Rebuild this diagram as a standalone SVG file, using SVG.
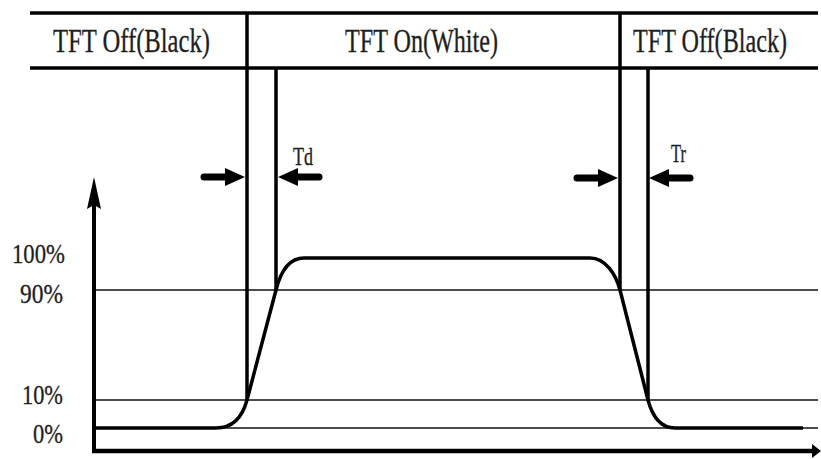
<svg xmlns="http://www.w3.org/2000/svg" width="821" height="459" viewBox="0 0 821 459">
<style>
  text { font-family: "Liberation Serif", "Times New Roman", serif; fill: #1e1e1e; stroke: #1e1e1e; stroke-width: 0.3; }
  .hdr { font-size: 33px; }
  .lbl { font-size: 27px; }
  .tag { font-size: 25px; }
  .thin { stroke: #111; stroke-width: 1.6; fill: none; }
  .bold { stroke: #000; stroke-width: 3.5; fill: none; }
  .curve { stroke: #000; stroke-width: 3.5; fill: none; stroke-linejoin: round; }
</style>
<defs>
  <g id="arrowRight">
    <line x1="-41" y1="0" x2="-16" y2="0" stroke="#000" stroke-width="7" stroke-linecap="round"/>
    <polygon points="0,0 -20,-9 -20,9" fill="#000"/>
  </g>
</defs>
<rect width="821" height="459" fill="#fff"/>

<g id="header">
  <line class="bold" x1="30" y1="13" x2="818" y2="13"/>
  <line class="bold" x1="30" y1="68" x2="818" y2="68" stroke-width="2.5"/>
  <text class="hdr" transform="translate(53,52) scale(0.73,1)" textLength="215" lengthAdjust="spacingAndGlyphs">TFT Off(Black)</text>
  <text class="hdr" transform="translate(345,52) scale(0.73,1)" textLength="209.6" lengthAdjust="spacingAndGlyphs">TFT On(White)</text>
  <text class="hdr" transform="translate(633,52) scale(0.73,1)" textLength="211" lengthAdjust="spacingAndGlyphs">TFT Off(Black)</text>
</g>

<g id="levels">
  <line class="thin" x1="94" y1="290" x2="818" y2="290"/>
  <line class="thin" x1="94" y1="400" x2="818" y2="400"/>
  <line class="thin" x1="94" y1="428" x2="818" y2="428" stroke-width="2.2"/>
  <text class="lbl" x="12" y="263" textLength="53" lengthAdjust="spacingAndGlyphs">100%</text>
  <text class="lbl" x="20" y="303" textLength="43" lengthAdjust="spacingAndGlyphs">90%</text>
  <text class="lbl" x="22" y="404" textLength="41" lengthAdjust="spacingAndGlyphs">10%</text>
  <text class="lbl" x="33" y="443" textLength="30" lengthAdjust="spacingAndGlyphs">0%</text>
</g>

<g id="axes">
  <line x1="94" y1="200" x2="94" y2="451" stroke="#000" stroke-width="4"/>
  <polygon points="94,177 101,209 94,205 87,209" fill="#000"/>
  <line x1="92" y1="451" x2="814" y2="451" stroke="#000" stroke-width="4.5"/>
  <polygon points="821,451 812,444 812,458" fill="#000"/>
</g>

<g id="markers">
  <line class="bold" x1="247" y1="13" x2="247" y2="400"/>
  <line class="bold" x1="276" y1="68" x2="276" y2="290"/>
  <line class="bold" x1="620" y1="13" x2="620" y2="290"/>
  <line class="bold" x1="648" y1="68" x2="648" y2="400"/>
</g>

<g id="response">
  <path class="curve" d="M94,428 L216,428 C234,428 243,415 247,400 L276,290 C280,274 288,258 304,258 L590,258 C606,258 616,275 620,290 L648,400 C652,415 660,428 675,428 L803,428"/>
</g>

<g id="connectors">
  <use href="#arrowRight" transform="translate(245,177)"/>
  <use href="#arrowRight" transform="translate(278,177) scale(-1,1)"/>
  <use href="#arrowRight" transform="translate(618,178)"/>
  <use href="#arrowRight" transform="translate(649,178) scale(-1,1)"/>
</g>

<g id="labels">
  <text class="tag" x="293" y="165" textLength="20" lengthAdjust="spacingAndGlyphs">Td</text>
  <text class="tag" x="671" y="162" textLength="15" lengthAdjust="spacingAndGlyphs">Tr</text>
</g>
</svg>
